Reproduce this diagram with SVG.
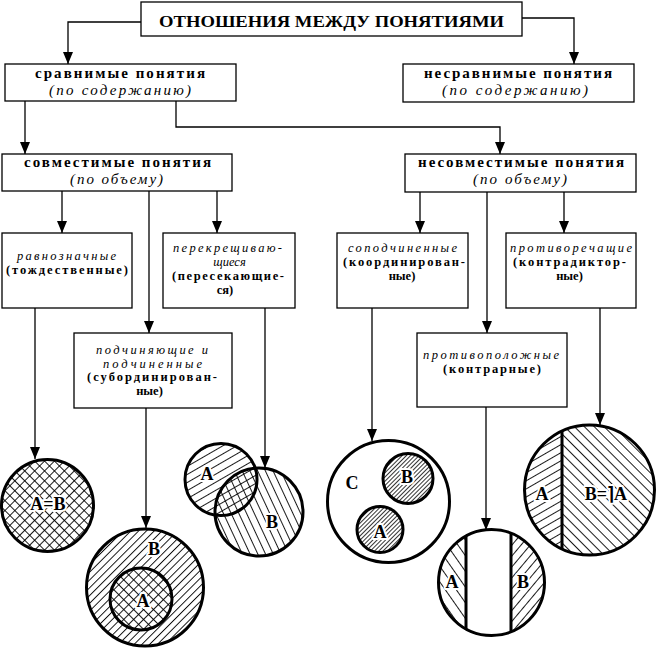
<svg xmlns="http://www.w3.org/2000/svg" width="657" height="649" viewBox="0 0 657 649">
<style>
.box{fill:#fff;stroke:#000;stroke-width:1.3}
.t{font-family:"Liberation Serif","Times New Roman",serif;fill:#000;text-anchor:middle}
.b{font-weight:bold}
.i{font-style:italic}
.s17{font-size:17px}
.s15{font-size:15px}
.s13{font-size:12.5px}
.con path{fill:none;stroke:#000;stroke-width:1.3;marker-end:url(#arr)}
.circ{fill:none;stroke:#000;stroke-width:3}
.lbl{font-family:"Liberation Serif","Times New Roman",serif;font-weight:bold;font-size:18px;text-anchor:middle;fill:#000;stroke:#fff;stroke-width:4;paint-order:stroke;stroke-linejoin:round}
.hl{stroke:#000;stroke-width:0.9}
</style>
<defs>
<marker id="arr" markerUnits="userSpaceOnUse" markerWidth="12" markerHeight="10" viewBox="0 0 12 10" refX="12" refY="5" orient="auto"><path d="M0,0 L12,5 L0,10 z" fill="#000"/></marker>
<pattern id="pCross" width="7" height="7" patternUnits="userSpaceOnUse" patternTransform="rotate(45)"><path class="hl" d="M0,0.5H7M0.5,0V7"/></pattern>
<pattern id="pB45" width="5.5" height="5.5" patternUnits="userSpaceOnUse" patternTransform="rotate(-45)"><path class="hl" d="M0,0.5H5.5"/></pattern>
<pattern id="pIA" width="7" height="7" patternUnits="userSpaceOnUse" patternTransform="rotate(-30)"><path class="hl" d="M0,0.5H7"/></pattern>
<pattern id="pIB" width="7" height="7" patternUnits="userSpaceOnUse" patternTransform="rotate(65)"><path class="hl" d="M0,0.5H7"/></pattern>
<pattern id="pDense" width="3" height="3" patternUnits="userSpaceOnUse" patternTransform="rotate(-45)"><path d="M0,0.5H3" stroke="#000" stroke-width="0.8"/></pattern>
<pattern id="pCL" width="9" height="9" patternUnits="userSpaceOnUse" patternTransform="rotate(55)"><path class="hl" d="M0,0.5H9"/></pattern>
<pattern id="pCR" width="7" height="7" patternUnits="userSpaceOnUse" patternTransform="rotate(-50)"><path class="hl" d="M0,0.5H7"/></pattern>
<pattern id="pDL" width="7" height="7" patternUnits="userSpaceOnUse" patternTransform="rotate(-30)"><path class="hl" d="M0,0.5H7"/></pattern>
<pattern id="pDR" width="7" height="7" patternUnits="userSpaceOnUse" patternTransform="rotate(45)"><path class="hl" d="M0,0.5H7"/></pattern>
<clipPath id="clipContrary"><circle cx="491.5" cy="582.5" r="53"/></clipPath>
<clipPath id="clipContra"><circle cx="589.5" cy="490" r="65"/></clipPath>
</defs>
<rect width="657" height="649" fill="#fff"/>

<g id="connectors" class="con">
<path d="M141,22 H68 V64"/>
<path d="M522,18 H574 V64"/>
<path d="M25,101 V154"/>
<path d="M176,101 V127 H500 V154"/>
<path d="M62,191 V233"/>
<path d="M149,191 V333"/>
<path d="M217,191 V233"/>
<path d="M420,192 V233"/>
<path d="M487,192 V333"/>
<path d="M564,192 V233"/>
<path d="M35,308 V459"/>
<path d="M146,408 V528"/>
<path d="M265,308 V468"/>
<path d="M372,308 V441"/>
<path d="M486,407 V530"/>
<path d="M600,308 V425"/>
</g>

<g id="title">
<rect class="box" x="141" y="2" width="381" height="34"/>
<text class="t b s17" x="331.5" y="27" textLength="345" lengthAdjust="spacingAndGlyphs">ОТНОШЕНИЯ МЕЖДУ ПОНЯТИЯМИ</text>
</g>
<g id="comparable">
<rect class="box" x="5" y="64" width="231" height="37"/>
<text class="t b s15" x="120" y="78" textLength="170" lengthAdjust="spacing">сравнимые понятия</text>
<text class="t i s15" x="120" y="94.5" textLength="142" lengthAdjust="spacing">(по содержанию)</text>
</g>
<g id="incomparable">
<rect class="box" x="403" y="64" width="231" height="38"/>
<text class="t b s15" x="518" y="78" textLength="188" lengthAdjust="spacing">несравнимые понятия</text>
<text class="t i s15" x="515" y="94.5" textLength="146" lengthAdjust="spacing">(по содержанию)</text>
</g>
<g id="compatible">
<rect class="box" x="2" y="154" width="230" height="37"/>
<text class="t b s15" x="117.5" y="167" textLength="187" lengthAdjust="spacing">совместимые понятия</text>
<text class="t i s15" x="116.5" y="184" textLength="93" lengthAdjust="spacing">(по объему)</text>
</g>
<g id="incompatible">
<rect class="box" x="405" y="154" width="231" height="38"/>
<text class="t b s15" x="521" y="167" textLength="206" lengthAdjust="spacing">несовместимые понятия</text>
<text class="t i s15" x="520" y="184" textLength="94" lengthAdjust="spacing">(по объему)</text>
</g>
<g id="equivalent">
<rect class="box" x="2" y="233" width="130" height="75"/>
<text class="t i s13" x="66.5" y="260" textLength="99" lengthAdjust="spacing">равнозначные</text>
<text class="t b s13" x="67" y="274" textLength="122" lengthAdjust="spacing">(тождественные)</text>
</g>
<g id="crossing">
<rect class="box" x="163" y="233" width="132" height="75"/>
<text class="t i s13" x="227.5" y="252" textLength="109" lengthAdjust="spacing">перекрещиваю-</text>
<text class="t i s13" x="229.5" y="266">щиеся</text>
<text class="t b s13" x="228" y="280" textLength="112" lengthAdjust="spacing">(пересекающие-</text>
<text class="t b s13" x="225" y="294">ся)</text>
</g>
<g id="subordinate">
<rect class="box" x="74" y="333" width="158" height="75"/>
<text class="t i s13" x="152" y="354" textLength="112" lengthAdjust="spacing">подчиняющие и</text>
<text class="t i s13" x="152.5" y="367.5" textLength="99" lengthAdjust="spacing">подчиненные</text>
<text class="t b s13" x="152" y="381" textLength="130" lengthAdjust="spacing">(субординирован-</text>
<text class="t b s13" x="149.5" y="394.5">ные)</text>
</g>
<g id="coordinated">
<rect class="box" x="337" y="233" width="131" height="75"/>
<text class="t i s13" x="402.5" y="252" textLength="109" lengthAdjust="spacing">соподчиненные</text>
<text class="t b s13" x="404" y="266" textLength="122" lengthAdjust="spacing">(координирован-</text>
<text class="t b s13" x="402" y="280">ные)</text>
</g>
<g id="contradictory">
<rect class="box" x="506" y="233" width="130" height="75"/>
<text class="t i s13" x="571" y="252" textLength="122" lengthAdjust="spacing">противоречащие</text>
<text class="t b s13" x="569.5" y="266" textLength="113" lengthAdjust="spacing">(контрадиктор-</text>
<text class="t b s13" x="569.5" y="280">ные)</text>
</g>
<g id="contrary">
<rect class="box" x="417" y="333" width="150" height="74"/>
<text class="t i s13" x="491" y="359" textLength="136" lengthAdjust="spacing">противоположные</text>
<text class="t b s13" x="492" y="373" textLength="98" lengthAdjust="spacing">(контрарные)</text>
</g>

<g id="circle-equal">
<circle cx="47.5" cy="505.5" r="46" fill="url(#pCross)"/>
<circle class="circ" cx="47.5" cy="505.5" r="46"/>
<text class="lbl" x="48" y="510">A=B</text>
</g>
<g id="circle-subordinate">
<circle cx="145" cy="587.5" r="58.5" fill="url(#pB45)"/>
<circle cx="141" cy="599" r="31" fill="#fff"/>
<circle cx="141" cy="599" r="31" fill="url(#pCross)"/>
<circle class="circ" cx="145" cy="587.5" r="58.5"/>
<circle class="circ" cx="141" cy="599" r="31"/>
<text class="lbl" x="154" y="555">B</text>
<text class="lbl" x="143" y="607">A</text>
</g>
<g id="circle-crossing">
<circle cx="221" cy="479.5" r="36" fill="url(#pIA)"/>
<circle cx="259" cy="512" r="44" fill="url(#pIB)"/>
<circle class="circ" cx="221" cy="479.5" r="36"/>
<circle class="circ" cx="259" cy="512" r="44"/>
<text class="lbl" x="207" y="480">A</text>
<text class="lbl" x="272" y="528">B</text>
</g>
<g id="circle-coordinated">
<circle class="circ" cx="388.5" cy="501.5" r="61" fill="#fff"/>
<circle cx="408" cy="478.5" r="25" fill="url(#pDense)"/>
<circle class="circ" cx="408" cy="478.5" r="25"/>
<circle cx="380" cy="529.5" r="23" fill="url(#pDense)"/>
<circle class="circ" cx="380" cy="529.5" r="23"/>
<text class="lbl" x="352" y="489">C</text>
<text class="lbl" x="407" y="483">B</text>
<text class="lbl" x="380" y="538">A</text>
</g>
<g id="circle-contrary">
<g clip-path="url(#clipContrary)">
<rect x="437" y="528" width="29" height="110" fill="url(#pCL)"/>
<rect x="511" y="528" width="35" height="110" fill="url(#pCR)"/>
</g>
<circle class="circ" cx="491.5" cy="582.5" r="53"/>
<path d="M466,536 V629 M511,533 V632" stroke="#000" stroke-width="3"/>
<text class="lbl" x="452" y="588">A</text>
<text class="lbl" x="523" y="588">B</text>
</g>
<g id="circle-contradictory">
<g clip-path="url(#clipContra)">
<rect x="523" y="424" width="39" height="132" fill="url(#pDL)"/>
<rect x="562" y="424" width="94" height="132" fill="url(#pDR)"/>
</g>
<circle class="circ" cx="589.5" cy="490" r="65"/>
<path d="M562,431 V549" stroke="#000" stroke-width="3"/>
<text class="lbl" x="542" y="500">A</text>
<text class="lbl" x="606" y="500">B=⌉A</text>
</g>
</svg>
